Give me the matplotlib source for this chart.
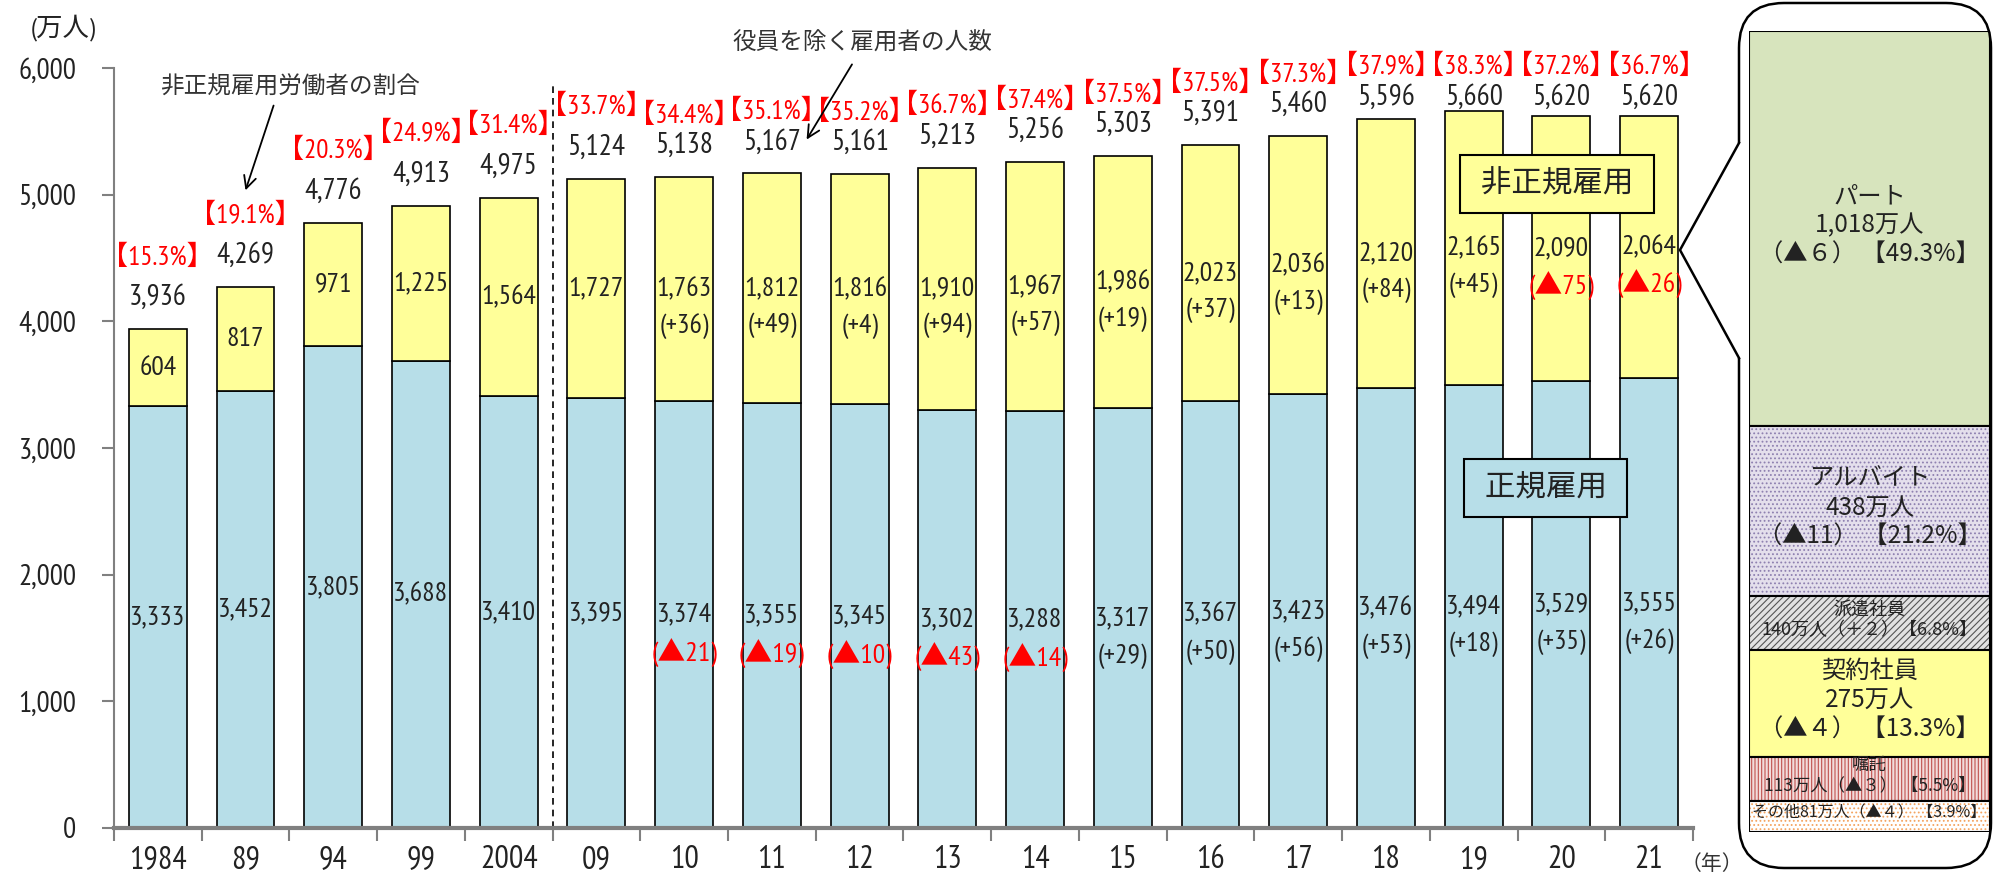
import numpy as np
import matplotlib.pyplot as plt
from matplotlib import font_manager
from matplotlib.patches import FancyBboxPatch, Polygon

# Employees excluding executives (10k persons)
years = ['1984', '89', '94', '99', '2004', '09', '10', '11', '12',
         '13', '14', '15', '16', '17', '18', '19', '20', '21']
total = [3936, 4269, 4776, 4913, 4975, 5124, 5138, 5167, 5161,
         5213, 5256, 5303, 5391, 5460, 5596, 5660, 5620, 5620]
regular = [3333, 3452, 3805, 3688, 3410, 3395, 3374, 3355, 3345,
           3302, 3288, 3317, 3367, 3423, 3476, 3494, 3529, 3555]
nonregular = [604, 817, 971, 1225, 1564, 1727, 1763, 1812, 1816,
              1910, 1967, 1986, 2023, 2036, 2120, 2165, 2090, 2064]
share = [15.3, 19.1, 20.3, 24.9, 31.4, 33.7, 34.4, 35.1, 35.2,
         36.7, 37.4, 37.5, 37.5, 37.3, 37.9, 38.3, 37.2, 36.7]
reg_change = [None] * 6 + [-21, -19, -10, -43, -14, 29, 50, 56, 53, 18, 35, 26]
nonreg_change = [None] * 6 + [36, 49, 4, 94, 57, 19, 37, 13, 84, 45, -75, -26]

# breakdown of non-regular employees, 2021
kinds = ['パート', 'アルバイト', '派遣社員', '契約社員', '嘱託', 'その他']
kind_num = [1018, 438, 140, 275, 113, 81]
kind_change = [-6, -11, 2, -4, -3, -4]
kind_share = [49.3, 21.2, 6.8, 13.3, 5.5, 3.9]

# fonts: a narrow face for the numbers if one is there
names = {f.name for f in font_manager.fontManager.ttflist}
narrow = 'Liberation Sans'
for cand in ['PT Sans Narrow', 'Roboto Condensed', 'Archivo Narrow', 'Liberation Sans Narrow']:
    if cand in names:
        narrow = cand
        break
NUM = [narrow, 'Noto Sans CJK JP', 'DejaVu Sans']
CJK = ['Noto Sans CJK JP', 'DejaVu Sans']
plt.rcParams['font.family'] = NUM
plt.rcParams['hatch.linewidth'] = 0.8

BLUE = '#B7DEE8'
YELLOW = '#FFFF99'
GRAY = '#808080'
TXT = '#222222'

fig = plt.figure(figsize=(19.95, 8.77), dpi=100)
ax = fig.add_axes([0.0571, 0.0559, 0.7915, 0.8666])
x = np.arange(len(years))

ax.bar(x, regular, width=0.66, color=BLUE, edgecolor='black', linewidth=1.2, zorder=2)
ax.bar(x, nonregular, bottom=regular, width=0.66, color=YELLOW,
       edgecolor='black', linewidth=1.2, zorder=2)

ax.set_xlim(-0.5, len(years) - 0.5)
ax.set_ylim(0, 6000)
ax.set_yticks(range(0, 7000, 1000))
ax.set_yticklabels([f'{v:,}' for v in range(0, 7000, 1000)], fontsize=21, color=TXT)
ax.set_xticks(x)
ax.set_xticklabels(years, fontsize=23, color=TXT)
ax.set_xticks(np.arange(len(years) + 1) - 0.5, minor=True)
ax.tick_params(axis='x', which='major', length=0, pad=12)
ax.tick_params(axis='x', which='minor', length=9, width=1.5, color=GRAY)
ax.tick_params(axis='y', length=9, width=1.5, color=GRAY, pad=18)
for s in ['top', 'right']:
    ax.spines[s].set_visible(False)
ax.spines['bottom'].set_color(GRAY)
ax.spines['bottom'].set_linewidth(3)
ax.spines['left'].set_color(GRAY)
ax.spines['left'].set_linewidth(1.5)


def chg_label(c):
    return f"({'▲' if c < 0 else '+'}{abs(c)})"


for i in range(len(years)):
    num_y = min(total[i] + 250, 5770)
    ax.text(i, num_y, f'{total[i]:,}', ha='center', va='center', fontsize=21, color=TXT)
    pct_y = num_y + (320 if i < 6 else 240)
    ax.text(i, pct_y, f'【{share[i]}%】', ha='center', va='center',
            fontsize=19.5, color='red')
    ax.text(i, regular[i] / 2, f'{regular[i]:,}', ha='center', va='center',
            fontsize=20, color=TXT, zorder=3)
    mid = regular[i] + nonregular[i] / 2
    ax.text(i, mid, f'{nonregular[i]:,}', ha='center', va='center',
            fontsize=20, color=TXT, zorder=3)
    if reg_change[i] is not None:
        c = reg_change[i]
        ax.text(i, regular[i] / 2 - 300, chg_label(c), ha='center', va='center',
                fontsize=20, color='red' if c < 0 else TXT, zorder=3)
    if nonreg_change[i] is not None:
        c = nonreg_change[i]
        ax.text(i, mid - 290, chg_label(c), ha='center', va='center',
                fontsize=20, color='red' if c < 0 else TXT, zorder=3)

# break between 5-year and yearly data
ax.plot([4.5, 4.5], [0, 5860], ls=(0, (4, 3)), color='black', lw=1.2, zorder=1,
        clip_on=False)

# annotations
ax.annotate('', xy=(0.99, 5013), xytext=(1.33, 5724),
            arrowprops=dict(arrowstyle='->', lw=1.3, color='black', mutation_scale=22))
ax.text(1.51, 5850, '非正規雇用労働者の割合', ha='center', va='center',
        fontsize=17, family=CJK, color='#333333')
ax.annotate('', xy=(7.38, 5416), xytext=(7.93, 6047),
            arrowprops=dict(arrowstyle='->', lw=1.3, color='black', mutation_scale=22),
            annotation_clip=False)
ax.text(8.03, 6197, '役員を除く雇用者の人数', ha='center', va='center',
        fontsize=17, family=CJK, color='#333333')

ax.text(15.95, 5084, ' 非正規雇用 ', ha='center', va='center', fontsize=22,
        family=CJK, zorder=6, color=TXT,
        bbox=dict(boxstyle='square,pad=0.45', fc=YELLOW, ec='black', lw=1.5))
ax.text(15.82, 2684, ' 正規雇用 ', ha='center', va='center', fontsize=22,
        family=CJK, zorder=6, color=TXT,
        bbox=dict(boxstyle='square,pad=0.45', fc=BLUE, ec='black', lw=1.5))

fig.text(63 / 1995, 1 - 28 / 877, '(万人)', ha='center', va='center', fontsize=19,
         color=TXT)
fig.text(1712 / 1995, 1 - 864 / 877, '（年）', ha='center', va='center',
         fontsize=15, family=CJK, color='#333333')

# breakdown panel
pax = fig.add_axes([0.8767, 0.0513, 0.1208, 0.9133])
pax.set_xlim(0, 1)
pax.set_ylim(0, 100)
pax.axis('off')

fills = ['#D7E4BD', '#E4DFEC', '#E2E2E2', YELLOW, '#F2DCDB', '#FFFFFF']
hatches = [None, '....', '/////', None, '|||||', '....']
hatch_cols = ['#D7E4BD', '#8E80B0', '#555555', YELLOW, '#C0504D', '#F4A460']
sizes = [17.5, 17.5, 13, 17.5, 12.5, 11.5]
fw = str.maketrans('0123456789+', '０１２３４５６７８９＋')


def kind_chg(c):
    d = str(abs(c))
    if len(d) == 1:
        d = d.translate(fw)
    return f"（{'▲' if c < 0 else '＋'}{d}）"


top = 100.0
for k in range(len(kinds)):
    b = top - kind_share[k]
    pax.bar(0.5, kind_share[k], bottom=b, width=1, color=fills[k],
            hatch=hatches[k], edgecolor=hatch_cols[k], linewidth=0)
    pax.bar(0.5, kind_share[k], bottom=b, width=1, fill=False,
            edgecolor='black', linewidth=1.5)
    n = f'{kind_num[k]:,}万人'
    c = kind_chg(kind_change[k])
    p = f'【{kind_share[k]}%】'
    if kinds[k] in ('パート', 'アルバイト', '契約社員'):
        lab = f'{kinds[k]}\n{n}\n{c} {p}'
    elif kinds[k] == '派遣社員':
        lab = f'{kinds[k]}\n{n}{c}{p}'
    elif kinds[k] == '嘱託':
        lab = f'{kinds[k]}\n{n}{c} {p}'
    else:
        lab = f'{kinds[k]}{n}{c} {p}'
    pax.text(0.5, b + kind_share[k] / 2 + 0.4, lab, ha='center', va='center',
             fontsize=sizes[k], family=CJK, linespacing=1.15, color=TXT)
    top = b

# rounded outline with callout pointer (pixel overlay)
ov = fig.add_axes([0, 0, 1, 1])
ov.set_xlim(0, 1995)
ov.set_ylim(877, 0)
ov.axis('off')
ov.patch.set_alpha(0)
ov.add_patch(FancyBboxPatch((1739, 3), 252, 865,
                            boxstyle='round,pad=0,rounding_size=45',
                            fill=False, ec='black', lw=1.8))
ov.add_patch(Polygon([(1735, 143), (1682, 250), (1735, 358), (1744, 358), (1744, 143)],
                     closed=True, fc='white', ec='none'))
ov.plot([1739, 1680, 1739], [143, 250, 358], color='black', lw=1.8)

plt.savefig('out.png', dpi=100)
